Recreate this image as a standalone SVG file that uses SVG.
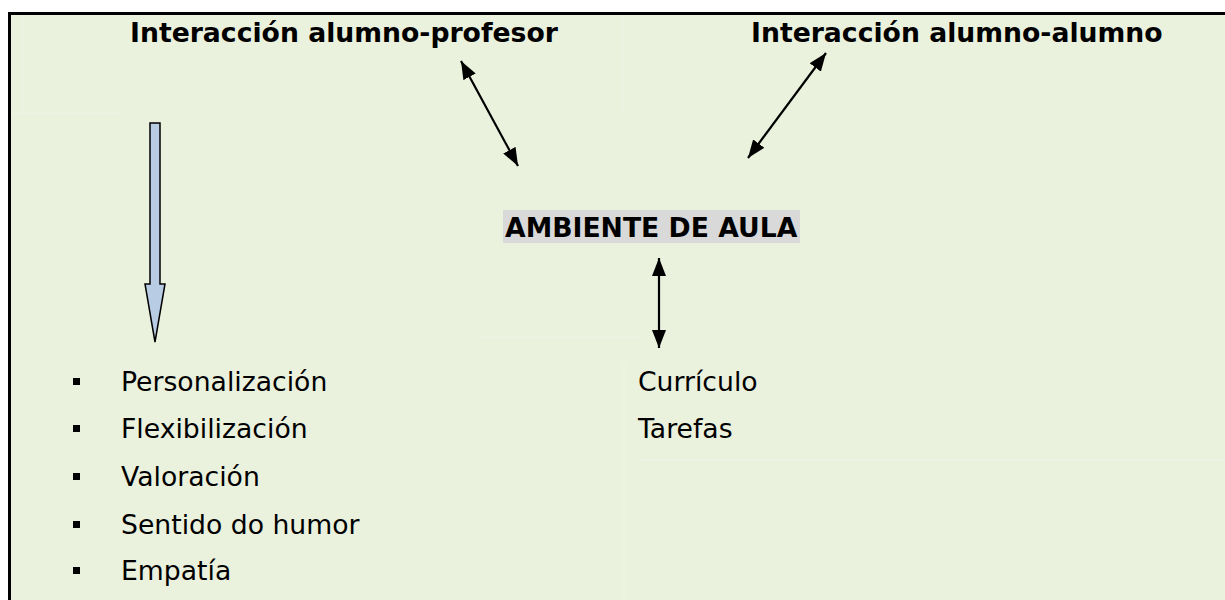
<svg xmlns="http://www.w3.org/2000/svg" width="1225" height="600" viewBox="0 0 1225 600">
<style>
text{font-family:"DejaVu Sans",Verdana,sans-serif;font-size:26.67px;fill:#000}
.b{font-weight:bold}
.cn{stroke:#000;stroke-width:2.2;fill:none}
.grid{stroke:#EEF4E5;stroke-width:1.5;fill:none}
</style>
<defs>
<marker id="ah" viewBox="0 0 18 14" refX="18" refY="7" markerWidth="18" markerHeight="14" markerUnits="userSpaceOnUse" orient="auto-start-reverse">
<path d="M0,0 L18,7 L0,14 z" fill="#000"/>
</marker>
</defs>
<rect x="0" y="0" width="1225" height="600" fill="#fff"/>
<rect x="11" y="15" width="1214" height="585" fill="#EAF1DD"/>
<path d="M9.5,600 V13.5 H1225" stroke="#000" stroke-width="3" fill="none"/>
<g id="grid">
<path class="grid" d="M623,15 V113 M23,15 V113 M11,113 H120 M480,337 H640 M624,362 V600 M640,460 H1225"/>
</g>
<g id="title-profesor"><text class="b" x="130" y="42">Interacción alumno-profesor</text></g>
<g id="title-alumno"><text class="b" x="751" y="42">Interacción alumno-alumno</text></g>
<g id="ambiente">
<rect x="503" y="210" width="297" height="33" fill="#D9D9D9"/>
<text class="b" x="505" y="237">AMBIENTE DE AULA</text>
</g>
<g id="block-arrow">
<path d="M150,123 H160 V284 H165 L155,342 L145,284 H150 Z" fill="#B8CCE4" stroke="#000" stroke-width="1.5"/>
</g>
<g id="list-left">
<rect x="73" y="378" width="7" height="7"/>
<rect x="73" y="425" width="7" height="7"/>
<rect x="73" y="473" width="7" height="7"/>
<rect x="73" y="521" width="7" height="7"/>
<rect x="73" y="567" width="7" height="7"/>
<text x="121" y="391">Personalización</text>
<text x="121" y="438">Flexibilización</text>
<text x="121" y="486">Valoración</text>
<text x="121" y="534">Sentido do humor</text>
<text x="121" y="580">Empatía</text>
</g>
<g id="list-right">
<text x="638" y="391">Currículo</text>
<text x="638" y="438">Tarefas</text>
</g>
<g id="connectors">
<line class="cn" x1="461" y1="61" x2="518" y2="166" marker-start="url(#ah)" marker-end="url(#ah)"/>
<line class="cn" x1="826" y1="53" x2="748" y2="158" marker-start="url(#ah)" marker-end="url(#ah)"/>
<line class="cn" x1="659" y1="258" x2="659" y2="348" marker-start="url(#ah)" marker-end="url(#ah)"/>
</g>
</svg>
